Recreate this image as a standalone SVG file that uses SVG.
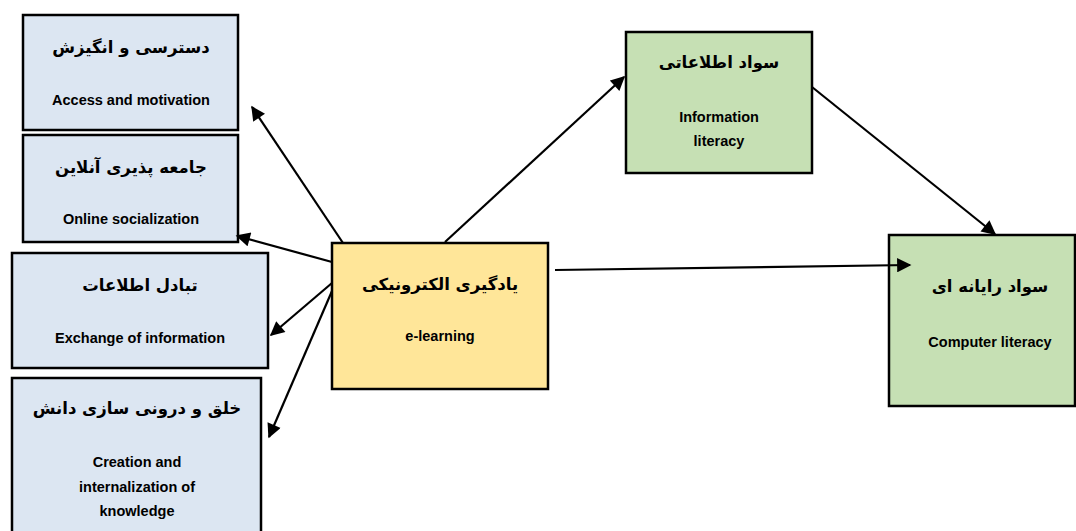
<svg xmlns="http://www.w3.org/2000/svg" width="1076" height="531" viewBox="0 0 1076 531">
<style>
.box{stroke:#000;stroke-width:2.5}
.blue{fill:#dce6f2}
.yellow{fill:#ffe699}
.green{fill:#c6e0b4}
.fa{font-family:"DejaVu Sans","Noto Sans",sans-serif;font-weight:bold;font-size:16.5px;fill:#000;text-anchor:middle}
.en{font-family:"Liberation Sans","Open Sans",sans-serif;font-weight:bold;font-size:14.5px;fill:#000;text-anchor:middle}
.con{stroke:#000;stroke-width:2.2;fill:none;marker-end:url(#ah)}
</style>
<defs>
<marker id="ah" viewBox="0 0 10 10" refX="9" refY="5" markerWidth="7" markerHeight="6.5" orient="auto" markerUnits="strokeWidth">
<path d="M0,0 L10,5 L0,10 z" fill="#000"/>
</marker>
</defs>
<rect width="1076" height="531" fill="#fff"/>
<g id="access">
<rect class="box blue" x="23" y="15" width="215" height="115"/>
<text class="fa" x="131" y="53" direction="rtl">دسترسی و انگیزش</text>
<text class="en" x="131" y="105">Access and motivation</text>
</g>
<g id="online">
<rect class="box blue" x="23" y="135" width="215" height="107"/>
<text class="fa" x="131" y="173" direction="rtl">جامعه پذیری آنلاین</text>
<text class="en" x="131" y="224">Online socialization</text>
</g>
<g id="exchange">
<rect class="box blue" x="12" y="253" width="256" height="115"/>
<text class="fa" x="140" y="291" direction="rtl">تبادل اطلاعات</text>
<text class="en" x="140" y="343">Exchange of information</text>
</g>
<g id="creation">
<rect class="box blue" x="12" y="378" width="249" height="160"/>
<text class="fa" x="137" y="414" direction="rtl">خلق و درونی سازی دانش</text>
<text class="en" x="137" y="467">Creation and</text>
<text class="en" x="137" y="492">internalization of</text>
<text class="en" x="137" y="516">knowledge</text>
</g>
<g id="elearning">
<rect class="box yellow" x="332" y="243" width="216" height="146"/>
<text class="fa" x="440" y="290" direction="rtl">یادگیری الکترونیکی</text>
<text class="en" x="440" y="341">e-learning</text>
</g>
<g id="info">
<rect class="box green" x="626" y="32" width="186" height="141"/>
<text class="fa" x="719" y="68" direction="rtl">سواد اطلاعاتی</text>
<text class="en" x="719" y="122">Information</text>
<text class="en" x="719" y="146">literacy</text>
</g>
<g id="computer">
<rect class="box green" x="889" y="235" width="186" height="171"/>
<text class="fa" x="990" y="292" direction="rtl">سواد رایانه ای</text>
<text class="en" x="990" y="347">Computer literacy</text>
</g>
<g id="connectors">
<line class="con" x1="343" y1="243" x2="252" y2="107"/>
<line class="con" x1="332" y1="262" x2="237" y2="236"/>
<line class="con" x1="332" y1="283" x2="271" y2="335"/>
<line class="con" x1="332" y1="291" x2="269" y2="437"/>
<line class="con" x1="445" y1="242" x2="624" y2="77"/>
<line class="con" x1="555" y1="270" x2="910" y2="265"/>
<line class="con" x1="812" y1="87" x2="995" y2="234"/>
</g>
</svg>
